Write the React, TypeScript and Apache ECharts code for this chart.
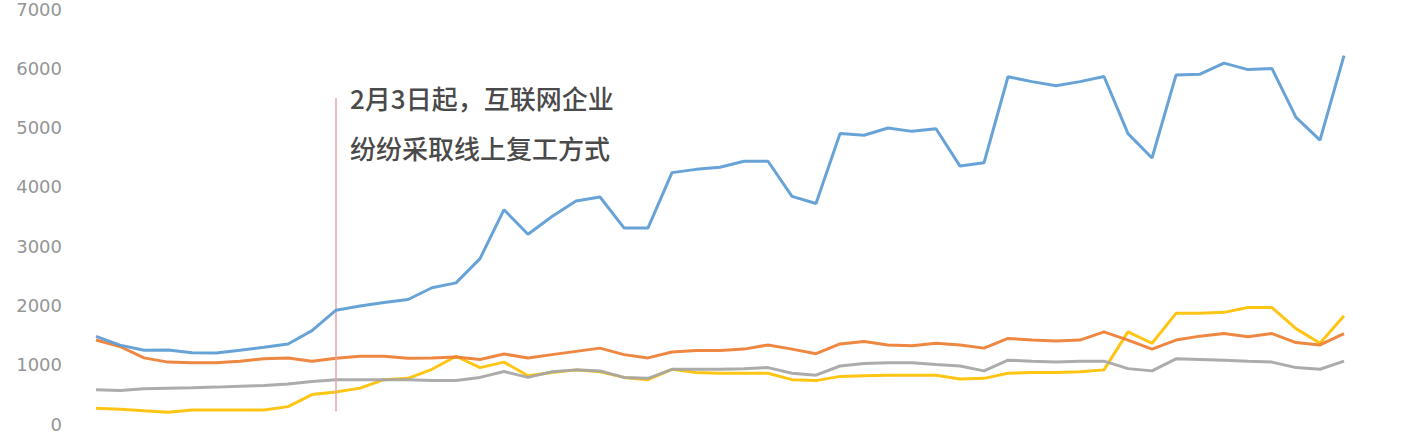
import React, { useEffect, useRef } from "react";
import * as echarts from "echarts";

const categories = [
  "1/24", "1/25", "1/26", "1/27", "1/28", "1/29", "1/30", "1/31",
  "2/1", "2/2", "2/3", "2/4", "2/5", "2/6", "2/7", "2/8", "2/9", "2/10",
  "2/11", "2/12", "2/13", "2/14", "2/15", "2/16", "2/17", "2/18", "2/19",
  "2/20", "2/21", "2/22", "2/23", "2/24", "2/25", "2/26", "2/27", "2/28",
  "2/29", "3/1", "3/2", "3/3", "3/4", "3/5", "3/6", "3/7", "3/8", "3/9",
  "3/10", "3/11", "3/12", "3/13", "3/14", "3/15", "3/16",
];

const blueSeries = [
  1477, 1330, 1245, 1250, 1200, 1197, 1245, 1296, 1350, 1575,
  1920, 1990, 2050, 2100, 2298, 2380, 2790, 3615, 3200, 3500,
  3763, 3829, 3308, 3308, 4240, 4295, 4330, 4432, 4432, 3840,
  3719, 4898, 4870, 4992, 4936, 4980, 4350, 4405, 5857, 5775,
  5704, 5775, 5862, 4898, 4487, 5885, 5901, 6087, 5978, 5995,
  5172, 4788, 6214,
];

const orangeSeries = [
  1416, 1307, 1115, 1044, 1033, 1033, 1060, 1099, 1115, 1060,
  1110, 1143, 1143, 1110, 1115, 1132, 1088, 1181, 1115, 1170,
  1225, 1280, 1170, 1115, 1214, 1241, 1241, 1263, 1334, 1263,
  1186, 1351, 1390, 1334, 1318, 1362, 1334, 1280, 1444, 1416,
  1400, 1416, 1554, 1416, 1263, 1416, 1482, 1526, 1472, 1526,
  1373, 1334, 1526,
];

const graySeries = [
  578, 567, 594, 605, 611, 622, 638, 649, 676, 715,
  748, 748, 748, 748, 732, 732, 786, 885, 786, 880,
  913, 896, 786, 770, 923, 923, 923, 934, 951, 857,
  824, 978, 1021, 1033, 1033, 1005, 978, 896, 1077, 1060,
  1044, 1060, 1060, 934, 896, 1099, 1088, 1077, 1060, 1044,
  951, 923, 1060,
];

const yellowSeries = [
  265, 249, 222, 200, 238, 238, 238, 238, 293, 496,
  540, 605, 748, 770, 923, 1143, 951, 1044, 814, 868,
  913, 880, 786, 748, 923, 868, 857, 857, 857, 748,
  732, 803, 814, 824, 824, 824, 759, 770, 857, 868,
  868, 880, 913, 1554, 1362, 1866, 1866, 1883, 1965, 1965,
  1609, 1362, 1827,
];

const markerDate = "2/3";
const markerRange = [215, 5500];
const annotation = "2月3日起，互联网企业\n纷纷采取线上复工方式";

export default function App() {
  const ref = useRef<HTMLDivElement>(null);

  useEffect(() => {
    document.body.style.margin = "0";
    if (!ref.current) return;
    const chart = echarts.init(ref.current, undefined, { renderer: "svg" });
    const lineStyle = (color: string) => ({
      type: "line" as const,
      showSymbol: false,
      symbol: "none",
      smooth: false,
      lineStyle: { color, width: 3, opacity: 0.92 },
      itemStyle: { color },
    });
    chart.setOption({
      animation: false,
      backgroundColor: "#ffffff",
      grid: { left: 96, right: 76, top: 7, bottom: 0, containLabel: false },
      xAxis: {
        type: "category",
        data: categories,
        boundaryGap: false,
        show: false,
      },
      yAxis: {
        type: "value",
        min: 0,
        max: 7000,
        interval: 1000,
        axisLine: { show: false },
        axisTick: { show: false },
        splitLine: { show: false },
        axisLabel: {
          color: "#959595",
          fontSize: 18,
          fontFamily: "DejaVu Sans",
          margin: 34,
          formatter: (v: number) => String(v),
        },
      },
      series: [
        {
          ...lineStyle("#ffc000"),
          name: "yellow",
          data: yellowSeries,
          z: 2,
        },
        {
          ...lineStyle("#a5a5a5"),
          name: "gray",
          data: graySeries,
          z: 3,
        },
        {
          ...lineStyle("#ed7d31"),
          name: "orange",
          data: orangeSeries,
          z: 4,
        },
        {
          ...lineStyle("#5b9bd5"),
          name: "blue",
          data: blueSeries,
          z: 5,
          markLine: {
            silent: true,
            symbol: ["none", "none"],
            label: { show: false },
            lineStyle: { color: "#eaa3a8", width: 1.5, type: "solid" },
            data: [
              [
                { coord: [markerDate, markerRange[0]] },
                { coord: [markerDate, markerRange[1]] },
              ],
            ],
          },
        },
      ],
      graphic: [
        {
          type: "text",
          left: 350,
          top: 72,
          style: {
            text: annotation,
            fill: "#4a4a4a",
            fontSize: 26,
            lineHeight: 50,
            fontFamily: "Noto Sans CJK SC",
            fontWeight: 500,
          },
        },
      ],
    });
    return () => chart.dispose();
  }, []);

  return <div ref={ref} style={{ width: 1420, height: 433 }} />;
}
